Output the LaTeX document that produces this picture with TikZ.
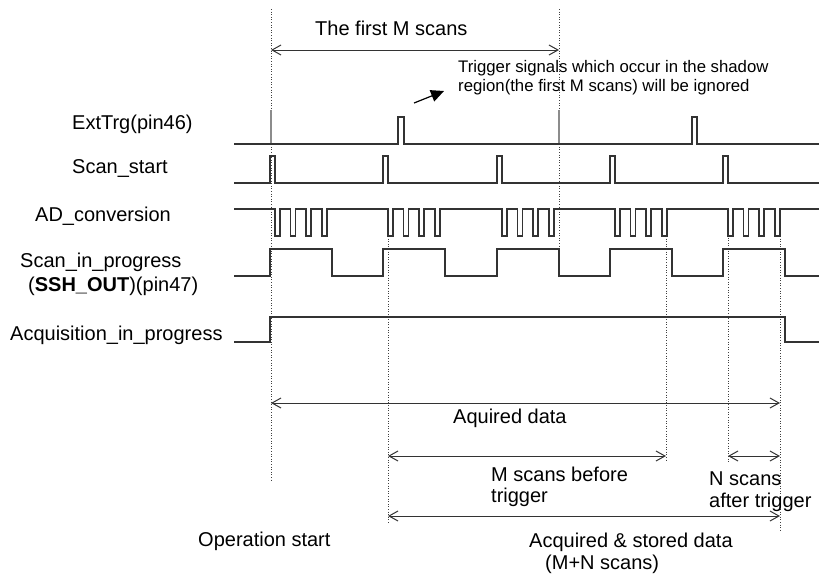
\documentclass[tikz,border=0pt]{standalone}
\usepackage{fontspec}
\setmainfont{Liberation Sans}
\usetikzlibrary{arrows.meta}
\begin{document}
\begin{tikzpicture}[x=1pt,y=-1pt,
  sig/.style={draw=black!80, line width=1.3pt, line join=miter},
  tick/.style={draw=black!45, line width=1.4pt},
  guide/.style={draw=black!75, line width=0.6pt, dotted},
  dimarrow/.style={draw=black!80, line width=1pt, {Straight Barb[length=9pt,width=10pt]}-{Straight Barb[length=9pt,width=10pt]}},
  notearrow/.style={draw=black, line width=1.2pt, -{Triangle[length=13pt,width=12pt]}},
  lbl/.style={anchor=base west, inner sep=0pt, font=\fontsize{20}{23}\selectfont},
  small/.style={anchor=base west, inner sep=0pt, font=\fontsize{16.75}{19}\selectfont}]
\useasboundingbox (0,0) rectangle (819,573);

% ---- signal labels
\node[lbl] (lext) at (72,129) {ExtTrg(pin46)};
\node[lbl] (lscan) at (72,173) {Scan\_start};
\node[lbl] (lad) at (35,221) {AD\_conversion};
\node[lbl] (lsip) at (20,267) {Scan\_in\_progress};
\node[lbl] (lssh) at (28,291) {(\textbf{SSH\_OUT})(pin47)};
\node[lbl] (lacq) at (10,340) {Acquisition\_in\_progress};

% ---- dotted guides
\draw[guide] (271,9) -- (271,481);
\draw[guide] (559,9) -- (559,250);
\draw[guide] (388,236) -- (388,524);
\draw[guide] (666,236) -- (666,462);
\draw[guide] (728,209) -- (728,462);
\draw[guide] (780,236) -- (780,532);

% ---- ExtTrg
\draw[tick] (271,110) -- (271,144);
\draw[tick] (559,110) -- (559,144);
\draw[sig] (234,144) -- (398,144) -- (398,117) -- (404,117) -- (404,144)
  -- (692,144) -- (692,117) -- (697,117) -- (697,144) -- (819,144);

% ---- Scan_start
\draw[sig] (234,183) foreach \p in {270,383,497,610,723} {
  -- (\p,183) -- (\p,156) -- (\p+5,156) -- (\p+5,183) } -- (819,183);

% ---- AD_conversion
\draw[sig] (234,209) foreach \d in {275,290.5,306,322, 388,403.5,419,435,
  502,517.5,533,549, 615,630.5,646,662, 728,743.5,759,775} {
  -- (\d,209) -- (\d,236) -- (\d+5,236) -- (\d+5,209) } -- (819,209);

% ---- Scan_in_progress
\draw[sig] (234,276) foreach \r in {270,383,497,610,723} {
  -- (\r,276) -- (\r,249) -- (\r+62,249) -- (\r+62,276) } -- (819,276);

% ---- Acquisition_in_progress
\draw[sig] (234,342) -- (270,342) -- (270,317) -- (785,317) -- (785,342) -- (819,342);

% ---- The first M scans
\coordinate (fm1) at (271,50);
\coordinate (fm2) at (559,50);
\draw[dimarrow] (fm1) -- (fm2);
\node[lbl] (tfm) at (315,35) {The first M scans};

% ---- trigger note
\coordinate (tr1) at (414,103);
\coordinate (tr2) at (444,91);
\draw[notearrow] (tr1) -- (tr2);
\node[small] (tn1) at (458,72) {Trigger signals which occur in the shadow};
\node[small] (tn2) at (458,91) {region(the first M scans) will be ignored};

% ---- Aquired data
\coordinate (ad1) at (271,403);
\coordinate (ad2) at (780,403);
\draw[dimarrow] (ad1) -- (ad2);
\node[lbl] (tad) at (453,423) {Aquired data};

% ---- M scans before trigger
\coordinate (mb1) at (388,456);
\coordinate (mb2) at (666,456);
\draw[dimarrow] (mb1) -- (mb2);
\node[lbl] (tmb1) at (491,481) {M scans before};
\node[lbl] (tmb2) at (491,502) {trigger};

% ---- N scans after trigger
\coordinate (na1) at (728,456);
\coordinate (na2) at (780,456);
\draw[dimarrow] (na1) -- (na2);
\node[lbl] (tna1) at (709,485) {N scans};
\node[lbl] (tna2) at (709,507) {after trigger};

% ---- Acquired & stored data
\coordinate (as1) at (388,516);
\coordinate (as2) at (780,516);
\draw[dimarrow] (as1) -- (as2);
\node[lbl] (tas1) at (529,547) {Acquired \& stored data};
\node[lbl] (tas2) at (545,569) {(M+N scans)};

% ---- Operation start
\node[lbl] (top) at (198,546) {Operation start};
\end{tikzpicture}
\end{document}
